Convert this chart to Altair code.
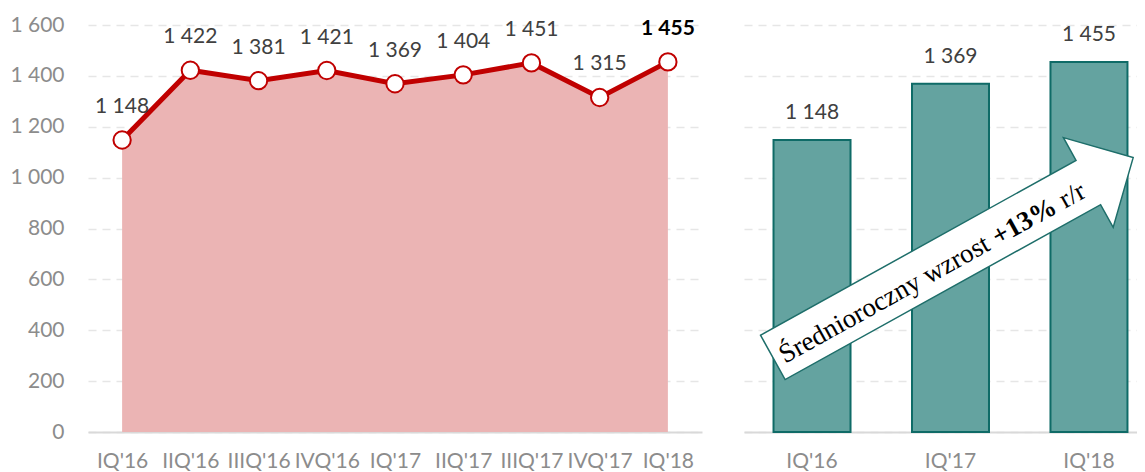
import altair as alt
import pandas as pd

quarters = ["IQ'16", "IIQ'16", "IIIQ'16", "IVQ'16", "IQ'17", "IIQ'17", "IIIQ'17", "IVQ'17", "IQ'18"]
values = [1148, 1422, 1381, 1421, 1369, 1404, 1451, 1315, 1455]
bar_quarters = ["IQ'16", "IQ'17", "IQ'18"]
bar_values = [1148, 1369, 1455]
y_ticks = [0, 200, 400, 600, 800, 1000, 1200, 1400, 1600]
arrow_parts = ["Średnioroczny wzrost", "+13%", "r/r"]


def fmt(v):
    return f"{v:,}".replace(",", " ")


df = pd.DataFrame({"q": quarters, "v": values, "lab": [fmt(v) for v in values],
                   "last": [i == len(values) - 1 for i in range(len(values))]})
dfb = pd.DataFrame({"q": bar_quarters, "v": bar_values, "lab": [fmt(v) for v in bar_values]})

FONT = "Lato"
LABEL_GRAY = "#8c8c8c"
TEXT_DARK = "#404040"
GRID = dict(grid=True, gridDash=[8, 6], gridColor="#e6e6e6", gridWidth=1.5)

yscale = alt.Scale(domain=[0, 1600], nice=False)
label_expr = "replace(format(datum.value, ','), ',', ' ')"

y_axis_left = alt.Axis(values=y_ticks, labelExpr=label_expr, domain=False, ticks=False,
                       labelPadding=24, minExtent=80, maxExtent=80, labelFontSize=21,
                       labelColor=LABEL_GRAY, labelFont=FONT, title=None, **GRID)
y_axis_right = alt.Axis(values=y_ticks, labels=False, domain=False, ticks=False,
                        minExtent=0, maxExtent=0, title=None, **GRID)

def x_axis():
    return alt.Axis(domain=True, domainColor="#d9d9d9", domainWidth=2, ticks=False,
                    labelAngle=0, labelPadding=18, labelFontSize=21, labelColor=LABEL_GRAY,
                    labelFont=FONT, grid=False, title=None)

xl = alt.X("q:N", sort=quarters, scale=alt.Scale(type="point", padding=0.5), axis=x_axis())
base = alt.Chart(df).encode(x=xl)
area = base.mark_area(color="#EBB4B4").encode(y=alt.Y("v:Q", scale=yscale, axis=y_axis_left))
line = base.mark_line(color="#C00000", strokeWidth=5).encode(y=alt.Y("v:Q", scale=yscale))
pts = base.mark_point(filled=True, fill="white", stroke="#C00000", strokeWidth=2, size=300,
                      opacity=1).encode(y=alt.Y("v:Q", scale=yscale))
labs = base.mark_text(dy=-33, fontSize=21, font=FONT, color=TEXT_DARK, baseline="middle").encode(
    y=alt.Y("v:Q", scale=yscale), text="lab:N").transform_filter("!datum.last")
labs_last = base.mark_text(dy=-33, fontSize=21, font=FONT, color="#000000", fontWeight="bold",
                           baseline="middle").encode(
    y=alt.Y("v:Q", scale=yscale), text="lab:N").transform_filter("datum.last")

left = alt.layer(area, line, pts, labs, labs_last).properties(width=614, height=407)

xb = alt.X("q:N", sort=bar_quarters,
           scale=alt.Scale(type="band", paddingInner=0.444, paddingOuter=0.141, align=0.756),
           axis=x_axis())
bbase = alt.Chart(dfb).encode(x=xb)
bars = bbase.mark_bar(color="#64A3A0", stroke="#0F6B67", strokeWidth=2).encode(
    y=alt.Y("v:Q", scale=yscale, axis=y_axis_right))
blabs = bbase.mark_text(dy=-27, fontSize=21, font=FONT, color=TEXT_DARK, baseline="middle").encode(
    y=alt.Y("v:Q", scale=yscale), text="lab:N")

arrow_path = "M-1,-0.123 L0.751,-0.123 L0.751,-0.249 L1,0 L0.751,0.249 L0.751,0.123 L-1,0.123 Z"
arrow = alt.Chart(pd.DataFrame({"a": [1]})).mark_point(
    shape=arrow_path, filled=True, fill="white", stroke="#1E6E6A", strokeWidth=1.5,
    size=412 * 412, angle=331, opacity=1).encode(x=alt.value(209), y=alt.value(232.5))

SERIF = "Liberation Serif"
tdf = pd.DataFrame({"t": arrow_parts})
tx, ty = 280.5, 197
t1 = alt.Chart(tdf).transform_filter(alt.datum.t == arrow_parts[0]).mark_text(
    font=SERIF, fontSize=27, angle=331, align="right", baseline="middle", dx=-42, color="#000000"
).encode(x=alt.value(tx), y=alt.value(ty), text="t:N")
t2 = alt.Chart(tdf).transform_filter(alt.datum.t == arrow_parts[1]).mark_text(
    font=SERIF, fontSize=27, angle=331, align="center", baseline="middle", fontWeight="bold", color="#000000"
).encode(x=alt.value(tx), y=alt.value(ty), text="t:N")
t3 = alt.Chart(tdf).transform_filter(alt.datum.t == arrow_parts[2]).mark_text(
    font=SERIF, fontSize=27, angle=331, align="left", baseline="middle", dx=42, color="#000000"
).encode(x=alt.value(tx), y=alt.value(ty), text="t:N")

right = alt.layer(bars, blabs, arrow, t1, t2, t3).properties(width=393, height=407)

chart = alt.hconcat(left, right, spacing=42).properties(
    padding={"left": 0, "right": 0, "top": 6, "bottom": 0}
).configure_view(stroke=None)

chart.save("out.html", embed_options={"renderer": "svg", "actions": False})
